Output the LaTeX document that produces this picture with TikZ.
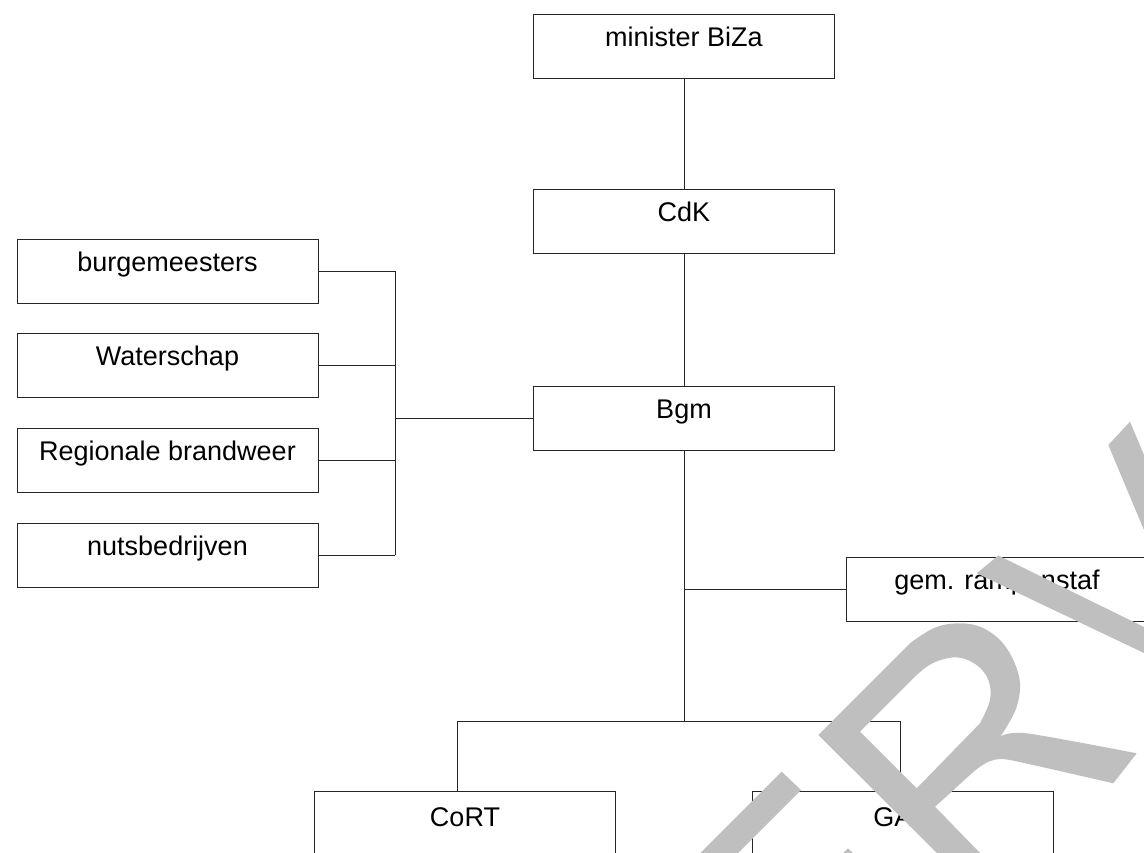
\documentclass[tikz,border=0pt]{standalone}
\usepackage{fontspec}
\setmainfont{Liberation Sans}
\begin{document}
\begin{tikzpicture}[x=1pt,y=-1pt,
  box/.style={draw=black!85, line width=0.9pt, fill=white, outer sep=0pt,
    minimum width=301pt, text height=19pt, text depth=18pt,
    inner ysep=13.5pt, inner xsep=0pt,
    font=\fontsize{27}{32}\selectfont},
  lowbox/.style={box, inner ysep=16.5pt},
  conn/.style={draw=black!85, line width=0.9pt},
  wm/.style={fill=black!25, draw=none}]
\fill[white] (0,0) rectangle (1144,853);
\useasboundingbox (0,0) rectangle (1144,853);
\clip (0,0) rectangle (1144,853);

% boxes
\node[box] (min) at (684,46.5) {minister BiZa};
\node[box] (cdk) at (684,221) {CdK};
\node[box] (bgm) at (684,418) {Bgm};
\node[box] (burg) at (167.5,271.5) {burgemeesters};
\node[box] (water) at (167.5,365) {Waterschap};
\node[box] (regio) at (167.5,460) {Regionale brandweer};
\node[box] (nuts) at (167.5,555) {nutsbedrijven};
\node[box] (gem) at (997,589) {gem. rampenstaf};
\node[lowbox] (cort) at (465,826) {CoRT};
\node[lowbox] (ga) at (902.5,826) {GA\hphantom{C}};

% connectors
\coordinate (bus) at (395,418);
\coordinate (j) at (684,721);
\coordinate (cl) at (457,721);
\coordinate (cr) at (900,721);
\draw[conn] (min.south) -- (cdk.north);
\draw[conn] (cdk.south) -- (bgm.north);
\draw[conn] (burg.east) -- (burg.east -| bus) -- (nuts.east -| bus);
\draw[conn] (water.east) -- (water.east -| bus);
\draw[conn] (regio.east) -- (regio.east -| bus);
\draw[conn] (nuts.east) -- (nuts.east -| bus);
\draw[conn] (bus) -- (bgm.west);
\draw[conn] (bgm.south) -- (j);
\draw[conn] (bgm.south |- gem.west) -- (gem.west);
\draw[conn] (cl) -- (cr);
\draw[conn] (cl) -- (cl |- cort.north);
\draw[conn] (cr) -- (cr |- ga.north);

% watermark
\fill[wm] (781.7,771.7) -- (801,790) -- (738,853) -- (700.4,853) -- cycle;
\fill[wm] (843,853) -- (848,848.5) -- (853,853) -- cycle;
\fill[wm, even odd rule]
  (937,853) -- (818.3,735) -- (910,643.3)
  -- plot[smooth, tension=0.6] coordinates {(910,643.3) (933.3,628.3) (956.7,623.3) (980,626.7) (1000,640) (1013.3,660) (1020,683.3) (1016.7,706.7) (1006.7,726.7) (1000,736.7)}
  -- plot[smooth] coordinates {(1000,736.7) (1026.7,733.3) (1136.7,753.3)}
  -- (1113.3,783.3)
  -- plot[smooth] coordinates {(1113.3,783.3) (1033,765) (1000,759) (980,766.7) (951.7,791.7)}
  -- (935,806.7) -- (980,853) -- cycle
  (860,731.7) -- (916.7,675)
  -- plot[smooth, tension=0.6] coordinates {(916.7,675) (933,663) (956.7,657.3) (976.7,665) (988.3,680) (990,700) (980,723.3)}
  -- (916.7,788.3) -- cycle;
\fill[wm] (1108.3,445) -- (1130,421.7) -- (1144,455) -- (1144,530) -- cycle;
\fill[wm] (998.3,555.5) -- (1144,627) -- (1144,653) -- (976.7,573.3) -- cycle;
\end{tikzpicture}
\end{document}
